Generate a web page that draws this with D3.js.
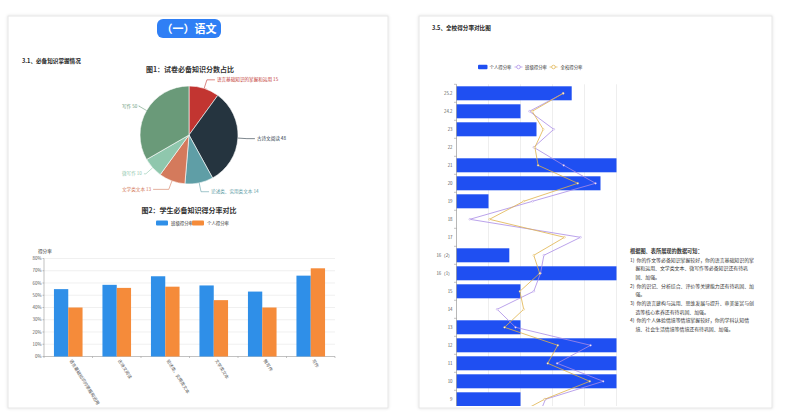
<!DOCTYPE html>
<html><head><meta charset="utf-8">
<script src="https://cdn.jsdelivr.net/npm/d3@7/dist/d3.min.js"></script>
<style>
html,body{margin:0;padding:0;background:#fff;}
svg{display:block;font-family:"Noto Sans CJK SC","Noto Sans",sans-serif;}
</style></head>
<body><svg id="c" width="785" height="420"></svg>
<script>
// ---------- DATA ----------
const pieNames = ['语言基础知识的掌握和运用','古诗文阅读','论述类、实用类文本','文学类文本','微写作','写作'];
const pieValues = [15, 48, 14, 13, 10, 50];
const pieColors = ['#c23531','#25343f','#5f9ea6','#d47a5c','#8fc7ad','#6a9a79'];

const barCategories = ['语言基础知识的掌握和运用','古诗文阅读','论述类、实用类文本','文学类文本','微写作','写作'];
const classRate = [55, 58.5, 65.5, 58, 53, 66];
const personalRate = [40, 56, 57, 46, 40, 72];
const rateTicks = [0,10,20,30,40,50,60,70,80];
const barSeriesNames = ['班级得分率','个人得分率'];

const rowLabels = ['25.2','24.2','23','22','21','20','19','18','17','16（2）','16（1）','15','14','13','12','11','10','9','8'];
const personalScore = [72, 40, 50, 0, 100, 90, 20, 0, 0, 33, 100, 40, 0, 40, 100, 100, 100, 40, 40];
const classScore   = [66.7, 45.6, 60.8, 48.3, 67, 86.9, 47.5, 8.3, 77.5, 54.6, 52.5, 48.3, 25.4, 36.9, 83.8, 62.9, 91.7, 55.6, 51];
const schoolScore  = [66.7, 47.3, 54.2, 49, 51, 75.8, 42, 20.6, 67.5, 48.3, 52, 39.6, 42, 30, 63.3, 57, 83.3, 55, 34];
const scoreTicks = [0,20,40,60,80,100];
const lineSeriesNames = ['个人得分率','班级得分率','全校得分率'];

const summaryLines = [
  '根据图、表所展现的数据可知：',
  '1)  你的作文等必备知识掌握较好，你的语言基础知识的掌',
  '     握和运用、文学类文本、微写作等必备知识还有待巩',
  '     固、加强。',
  '2)  你的识记、分析综合、评价等关键能力还有待巩固、加',
  '     强。',
  '3)  你的语言建构与运用、思维发展与提升、审美鉴赏与创',
  '     造等核心素养还有待巩固、加强。',
  '4)  你的个人体验情境等情境掌握较好，你的学科认知情',
  '     境、社会生活情境等情境还有待巩固、加强。'
];

// ---------- DRAW ----------
const svg = d3.select('#c');
const defs = svg.append('defs');
const f = defs.append('filter').attr('id','sh').attr('x','-5%').attr('y','-5%').attr('width','110%').attr('height','110%');
f.append('feDropShadow').attr('dx',0).attr('dy',0).attr('stdDeviation',1.5).attr('flood-color','#000').attr('flood-opacity',0.12);

// cards
svg.append('rect').attr('x',8).attr('y',16).attr('width',380).attr('height',392).attr('fill','#fff').attr('stroke','#e6e6e6').attr('filter','url(#sh)');
svg.append('rect').attr('x',419).attr('y',16).attr('width',353).attr('height',392).attr('fill','#fff').attr('stroke','#e6e6e6').attr('filter','url(#sh)');

// header pill
svg.append('rect').attr('x',157).attr('y',19).attr('width',64).attr('height',19).attr('rx',6).attr('fill','#2f7ff5');
svg.append('text').attr('x',189).attr('y',32.5).attr('text-anchor','middle').attr('fill','#fff').attr('font-size',11).attr('font-weight','bold').text('（一）语文');

svg.append('text').attr('x',22).attr('y',63).attr('font-size',5.6).attr('font-weight','bold').attr('fill','#222').text('3.1、必备知识掌握情况');

// ---- Pie ----
svg.append('text').attr('x',190).attr('y',71.5).attr('text-anchor','middle').attr('font-size',7).attr('font-weight','bold').attr('fill','#333').text('图1：试卷必备知识分数占比');
const pcx = 189, pcy = 135, pr = 49;
const leftEdge = 122;
const pieGen = d3.pie().sort(null).value(d=>d.v);
const arcs = pieGen(pieValues.map((v,i)=>({v, name: pieNames[i], color: pieColors[i]})));
const arcGen = d3.arc().innerRadius(0).outerRadius(pr);
const pg = svg.append('g').attr('transform',`translate(${pcx},${pcy})`);
pg.selectAll('path').data(arcs).join('path').attr('d',arcGen).attr('fill',d=>d.data.color).attr('stroke','#fff').attr('stroke-width',0.6);
arcs.forEach(a=>{
  const m = (a.startAngle + a.endAngle)/2;
  const s = Math.sin(m), c = -Math.cos(m);
  const p0 = [s*pr, c*pr], p1 = [s*(pr+9), c*(pr+9)];
  const right = s >= 0;
  const label = a.data.name + ' ' + a.data.v;
  if (right) {
    const p2 = [p1[0] + 8, p1[1]];
    pg.append('polyline').attr('points',[p0,p1,p2].map(p=>p.join(',')).join(' ')).attr('fill','none').attr('stroke',a.data.color).attr('stroke-width',0.6);
    pg.append('text').attr('x',p2[0]+2).attr('y',p2[1]+1.6).attr('font-size',4.6).attr('fill',a.data.color).text(label);
  } else {
    const t = pg.append('text').attr('x',leftEdge-pcx).attr('y',p1[1]+1.6).attr('font-size',4.6).attr('fill',a.data.color).text(label);
    const w = t.node().getComputedTextLength();
    const p2 = [leftEdge-pcx + w + 2, p1[1]];
    pg.append('polyline').attr('points',[p0,p1,p2].map(p=>p.join(',')).join(' ')).attr('fill','none').attr('stroke',a.data.color).attr('stroke-width',0.6);
  }
});

// ---- Grouped bar chart ----
svg.append('text').attr('x',189).attr('y',213).attr('text-anchor','middle').attr('font-size',7).attr('font-weight','bold').attr('fill','#333').text('图2：学生必备知识得分率对比');
const barColors = ['#2f8fe8','#f58b3a'];
const lg = svg.append('g');
[[156,171],[192,207]].forEach((p,i)=>{
  lg.append('rect').attr('x',p[0]).attr('y',220.5).attr('width',12).attr('height',5).attr('rx',1).attr('fill',barColors[i]);
  lg.append('text').attr('x',p[1]).attr('y',224.6).attr('font-size',4.4).attr('fill','#333').text(barSeriesNames[i]);
});
const bx = d3.scaleBand().domain(barCategories).range([44,335]);
const by = d3.scaleLinear().domain([0,80]).range([356.5,258.5]);
const bg = svg.append('g');
rateTicks.forEach(t=>{
  bg.append('line').attr('x1',44).attr('x2',335).attr('y1',by(t)).attr('y2',by(t)).attr('stroke', t===0? '#999':'#e6e6e6').attr('stroke-width',0.6);
  bg.append('text').attr('x',41.5).attr('y',by(t)+1.5).attr('text-anchor','end').attr('font-size',4.4).attr('fill','#555').text(t+'%');
  bg.append('line').attr('x1',42.5).attr('x2',44).attr('y1',by(t)).attr('y2',by(t)).attr('stroke','#999').attr('stroke-width',0.6);
});
bg.append('line').attr('x1',44).attr('x2',44).attr('y1',by(80)).attr('y2',by(0)).attr('stroke','#999').attr('stroke-width',0.6);
bg.append('text').attr('x',38).attr('y',252.5).attr('font-size',4.6).attr('fill','#333').text('得分率');
const bw = 14.3;
barCategories.forEach((c,i)=>{
  const cx = bx(c) + bx.bandwidth()/2;
  bg.append('rect').attr('x',cx-bw).attr('y',by(classRate[i])).attr('width',bw).attr('height',by(0)-by(classRate[i])).attr('fill',barColors[0]);
  bg.append('rect').attr('x',cx).attr('y',by(personalRate[i])).attr('width',bw).attr('height',by(0)-by(personalRate[i])).attr('fill',barColors[1]);
  bg.append('line').attr('x1',bx(c)).attr('x2',bx(c)).attr('y1',by(0)).attr('y2',by(0)+1.5).attr('stroke','#999').attr('stroke-width',0.6);
  bg.append('text').attr('transform',`translate(${cx+1},${by(0)+4}) rotate(58)`).attr('font-size',4.4).attr('fill','#555').text(c);
});
bg.append('line').attr('x1',335).attr('x2',335).attr('y1',by(0)).attr('y2',by(0)+1.5).attr('stroke','#999').attr('stroke-width',0.6);

// ---- Right page ----
svg.append('text').attr('x',432).attr('y',29.5).attr('font-size',5.6).attr('font-weight','bold').attr('fill','#222').text('3.5、全校得分率对比图');
const lineColors = ['#1f4ff2','#a98be6','#e0b24a'];
const rl = svg.append('g');
rl.append('rect').attr('x',478).attr('y',64.8).attr('width',9.5).attr('height',4.4).attr('rx',1).attr('fill',lineColors[0]);
rl.append('text').attr('x',489.5).attr('y',68.6).attr('font-size',4.4).attr('fill','#333').text(lineSeriesNames[0]);
[[514.5,525],[549.5,560.5]].forEach((p,i)=>{
  rl.append('line').attr('x1',p[0]).attr('x2',p[0]+8).attr('y1',67).attr('y2',67).attr('stroke',lineColors[i+1]).attr('stroke-width',0.7);
  rl.append('circle').attr('cx',p[0]+4).attr('cy',67).attr('r',1.8).attr('fill','#fff').attr('stroke',lineColors[i+1]).attr('stroke-width',0.7);
  rl.append('text').attr('x',p[1]).attr('y',68.6).attr('font-size',4.4).attr('fill','#333').text(lineSeriesNames[i+1]);
});

defs.append('clipPath').attr('id','rc').append('rect').attr('x',420).attr('y',80).attr('width',350).attr('height',326);
const rg = svg.append('g').attr('clip-path','url(#rc)');
const ry = d3.scaleBand().domain(rowLabels).range([84.3, 84.3 + 18*rowLabels.length]);
const rx = d3.scaleLinear().domain([0,100]).range([456.5,616.5]);
scoreTicks.forEach(t=>{
  if(t>0) rg.append('line').attr('x1',rx(t)).attr('x2',rx(t)).attr('y1',84.3).attr('y2',420).attr('stroke','#e3e3e3').attr('stroke-width',0.6);
});
rowLabels.forEach((r,i)=>{
  const y0 = ry(r);
  if(personalScore[i] > 0)
    rg.append('rect').attr('x',rx(0)).attr('y',y0+2).attr('width',rx(personalScore[i])-rx(0)).attr('height',14).attr('fill',lineColors[0]);
  rg.append('text').attr('x',452.5).attr('y',y0+9+1.5).attr('text-anchor','end').attr('font-size',4.4).attr('fill','#555').text(r);
  rg.append('line').attr('x1',454).attr('x2',456.5).attr('y1',y0).attr('y2',y0).attr('stroke','#888').attr('stroke-width',0.5);
});
rg.append('line').attr('x1',456.5).attr('x2',456.5).attr('y1',84.3).attr('y2',420).attr('stroke','#888').attr('stroke-width',0.6);
const lineGen = d3.line().x(d=>rx(d.v)).y(d=>ry(d.r)+9);
[classScore, schoolScore].forEach((arr,k)=>{
  const pts = arr.map((v,i)=>({v, r: rowLabels[i]}));
  rg.append('path').attr('d',lineGen(pts)).attr('fill','none').attr('stroke',lineColors[k+1]).attr('stroke-width',0.8);
  rg.selectAll(null).data(pts).join('circle').attr('cx',d=>rx(d.v)).attr('cy',d=>ry(d.r)+9).attr('r',0.9).attr('fill','#fff').attr('stroke',lineColors[k+1]).attr('stroke-width',0.4);
});

// summary text
const tg = svg.append('g');
summaryLines.forEach((l,i)=>{
  tg.append('text').attr('x',630).attr('y',253 + i*8.67).attr('font-size',i===0?5.2:4.9).attr('font-weight',i===0?'bold':'normal').attr('fill','#333').attr('xml:space','preserve').style('white-space','pre').text(l);
});
</script></body></html>
